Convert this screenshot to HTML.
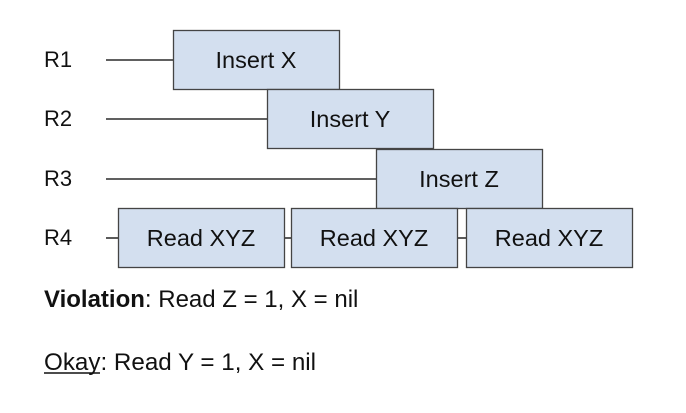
<!DOCTYPE html>
<html><head><style>
body{margin:0;background:#fff;}
</style></head><body>
<svg width="686" height="408" xmlns="http://www.w3.org/2000/svg" font-family="Liberation Sans, sans-serif" font-size="22" fill="#000">
<g stroke="#000" stroke-width="1.3">
<line x1="106" y1="60" x2="173" y2="60"/>
<line x1="106" y1="119" x2="267" y2="119"/>
<line x1="106" y1="179" x2="376" y2="179"/>
<line x1="106" y1="238" x2="118" y2="238"/>
<line x1="284" y1="238" x2="291" y2="238"/>
<line x1="457" y1="238" x2="466" y2="238"/>
</g>
<g fill="#d3dfef" stroke="#444" stroke-width="1.3">
<rect x="173.5" y="30.5" width="166" height="59"/>
<rect x="267.5" y="89.5" width="166" height="59"/>
<rect x="376.5" y="149.5" width="166" height="59"/>
<rect x="118.5" y="208.5" width="166" height="59"/>
<rect x="291.5" y="208.5" width="166" height="59"/>
<rect x="466.5" y="208.5" width="166" height="59"/>
</g>
<g text-anchor="middle" fill="#111" font-size="23.5">
<text x="256" y="68">Insert X</text>
<text x="350" y="127">Insert Y</text>
<text x="459" y="187">Insert Z</text>
<text x="201" y="246">Read XYZ</text>
<text x="374" y="246">Read XYZ</text>
<text x="549" y="246">Read XYZ</text>
</g>
<g fill="#111">
<text x="44" y="67">R1</text>
<text x="44" y="126">R2</text>
<text x="44" y="186">R3</text>
<text x="44" y="245">R4</text>
<text x="44" y="307" font-size="24"><tspan font-weight="bold">Violation</tspan>: Read Z = 1, X = nil</text>
<text x="44" y="370" font-size="24.2">Okay: Read Y = 1, X = nil</text>
</g>
<line x1="44" y1="373" x2="100" y2="373" stroke="#111" stroke-width="1.5"/>
</svg>
</body></html>
